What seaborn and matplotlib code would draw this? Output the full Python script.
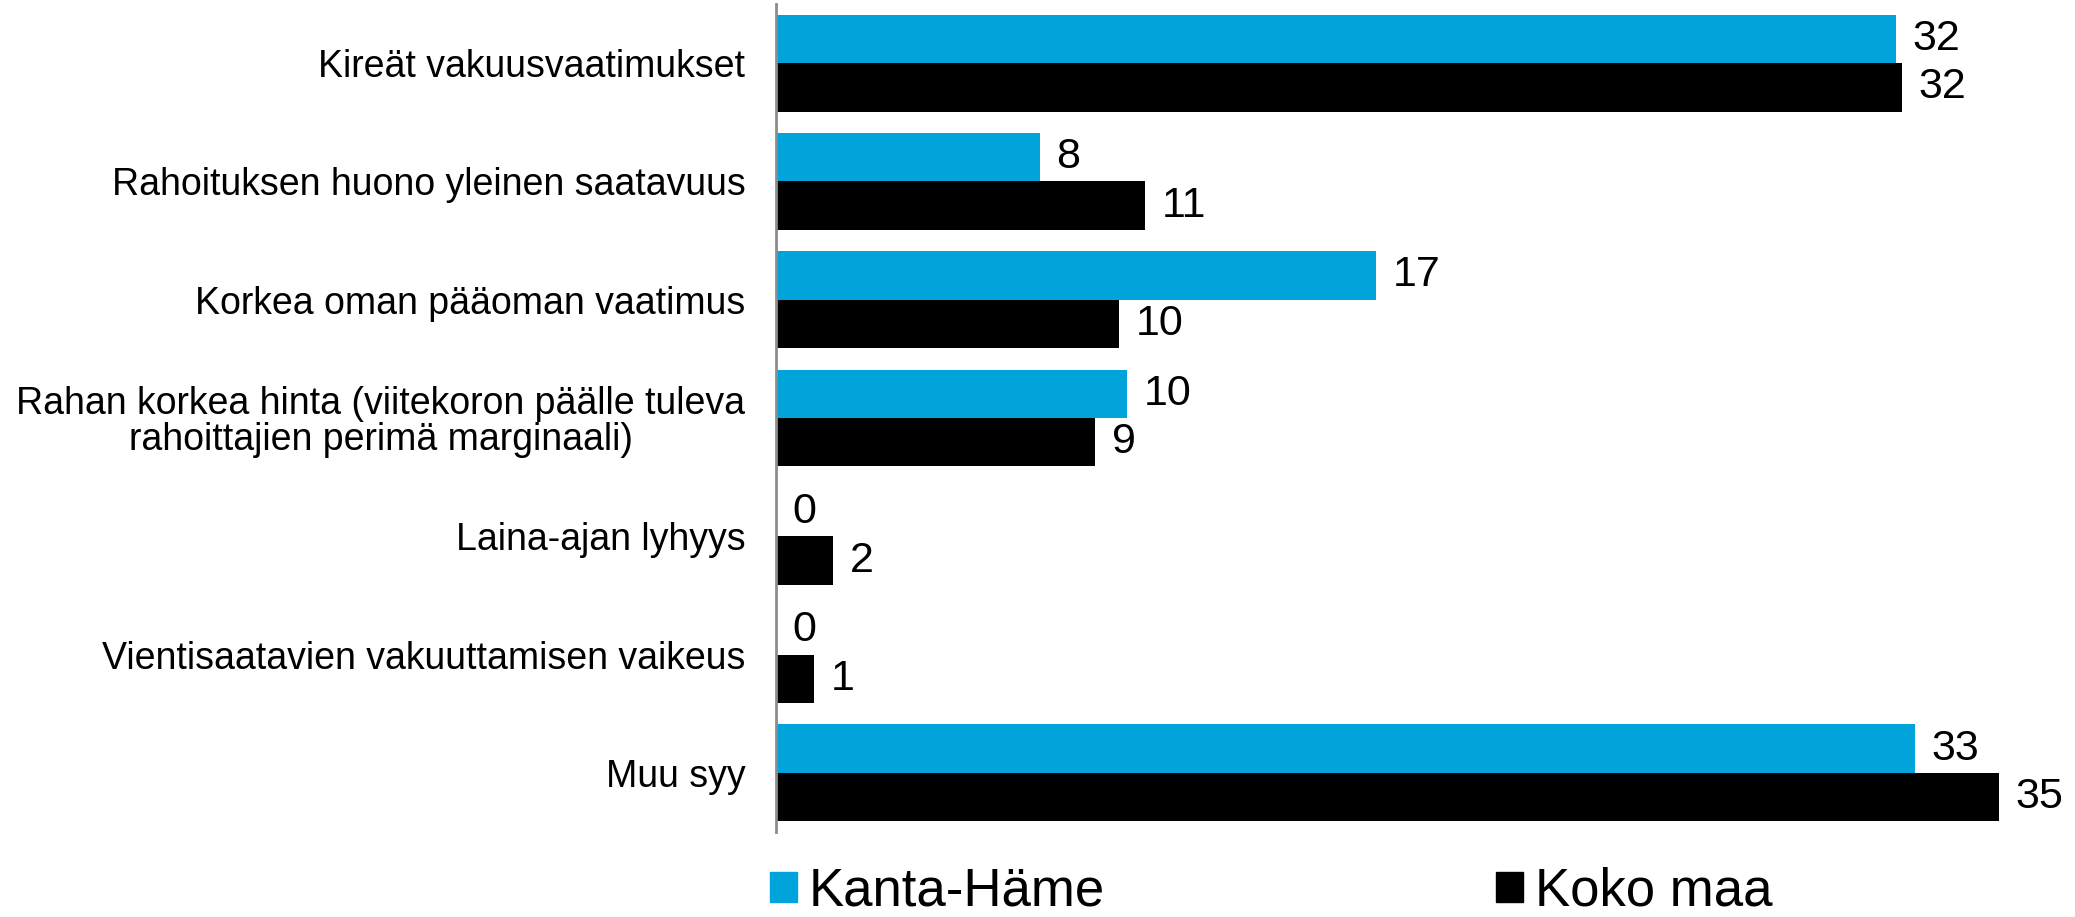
import matplotlib
matplotlib.use("Agg")
import matplotlib.pyplot as plt
import pandas as pd
import seaborn as sns

categories = [
    "Kireät vakuusvaatimukset",
    "Rahoituksen huono yleinen saatavuus",
    "Korkea oman pääoman vaatimus",
    "Rahan korkea hinta (viitekoron päälle tuleva\nrahoittajien perimä marginaali)",
    "Laina-ajan lyhyys",
    "Vientisaatavien vakuuttamisen vaikeus",
    "Muu syy",
]
series = ["Kanta-Häme", "Koko maa"]
# shares (%); labels show them rounded
kanta_hame = [32.05, 7.55, 17.16, 10.05, 0, 0, 32.6]
koko_maa = [32.23, 10.55, 9.83, 9.14, 1.63, 1.09, 35.0]
colors = ["#00A3DA", "#000000"]

df = pd.DataFrame({
    "syy": categories * 2,
    "alue": [series[0]] * len(categories) + [series[1]] * len(categories),
    "arvo": kanta_hame + koko_maa,
})

sns.set_style("white")
plt.rcParams["font.family"] = ["Liberation Sans", "DejaVu Sans"]
plt.rcParams["text.color"] = "black"
plt.rcParams["ytick.color"] = "black"

fig = plt.figure(figsize=(20.75, 9.17), dpi=100)
ax = fig.add_axes([776 / 2075, 1 - 832 / 917, (2045 - 776) / 2075, 828 / 917])

sns.barplot(data=df, y="syy", x="arvo", hue="alue", order=categories,
            hue_order=series, palette=colors, orient="h", width=0.82,
            saturation=1, linewidth=0, ax=ax, legend=False)

for cont in ax.containers:
    ax.bar_label(cont, fmt="%.0f", padding=12, fontsize=31, color="black")

ax.set_xlim(0, 35 * 1269 / 1223)
ax.set_ylim(len(categories) - 0.5, -0.5)
ax.set_xlabel("")
ax.set_ylabel("")
ax.set_xticks([])
ax.tick_params(axis="y", length=0, pad=22, labelsize=27, labelcolor="black")
for lbl in ax.get_yticklabels():
    lbl.set_linespacing(1.0)
    lbl.set_multialignment("center")

for side in ["top", "right", "bottom"]:
    ax.spines[side].set_visible(False)
ax.spines["left"].set_color("#8c8c8c")
ax.spines["left"].set_linewidth(2)

handles = [plt.Rectangle((0, 0), 1, 1, color=c) for c in colors]
fig.legend(handles, series, loc="lower left", bbox_to_anchor=(770 / 2075, 0.0),
           ncol=2, frameon=False, fontsize=38, handlelength=0.51,
           handleheight=0.5, handletextpad=0.23, columnspacing=7.4,
           borderpad=0, borderaxespad=0.0)

plt.savefig("out.png", dpi=100)
